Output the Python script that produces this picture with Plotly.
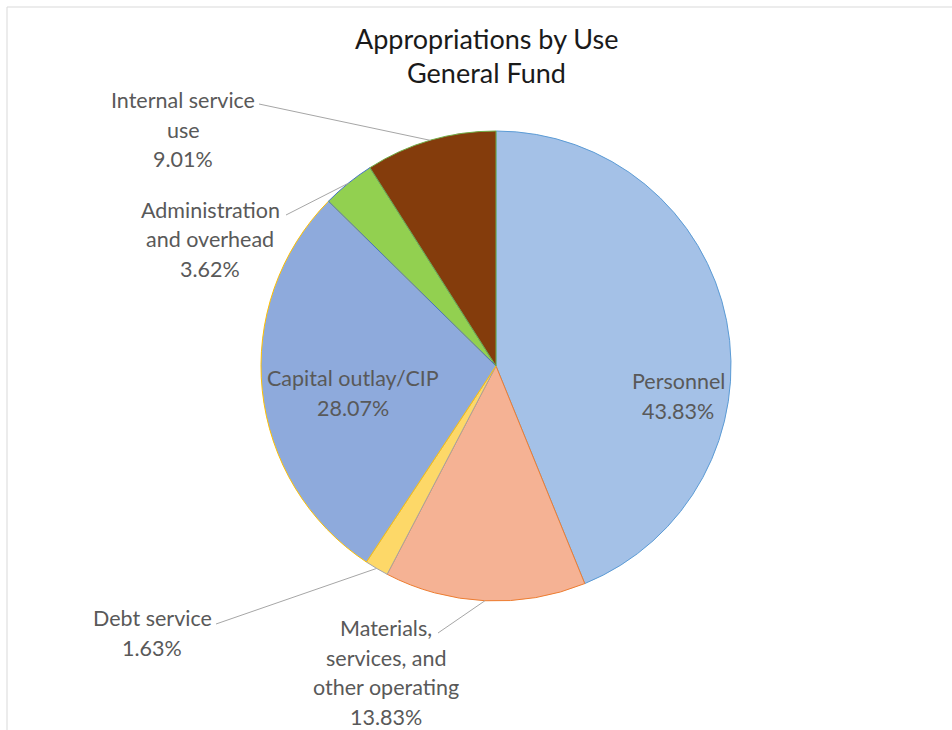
import math
import plotly.graph_objects as go

# Appropriations by use, general fund (share of total, %)
categories = [
    "Personnel",
    "Materials, services, and other operating",
    "Debt service",
    "Capital outlay/CIP",
    "Administration and overhead",
    "Internal service use",
]
shares = [43.83, 13.83, 1.63, 28.07, 3.62, 9.01]

# How each label is broken over lines
label_lines = [
    ["Personnel"],
    ["Materials,", "services, and", "other operating"],
    ["Debt service"],
    ["Capital outlay/CIP"],
    ["Administration", "and overhead"],
    ["Internal service", "use"],
]

title_lines = ["Appropriations by Use", "General Fund"]

fill_colors = ["#a4c1e7", "#f5b294", "#fdd868", "#8eaadc", "#92d050", "#843c0c"]
edge_colors = ["#5b9bd5", "#ed7d31", "#a5a5a5", "#ffc000", "#4472c4", "#70ad47"]

W, H = 952, 730
CX, CY, R = 496, 366, 235  # pie centre and radius in pixels

FONT = "Lato"
LABEL_SIZE = 21.5
LABEL_COLOR = "#595959"
LINE_H = 29.5


def px(x):
    return x / W


def py(y):
    return 1 - y / H


fig = go.Figure(
    go.Pie(
        labels=categories,
        values=shares,
        sort=False,
        direction="clockwise",
        rotation=0,
        textinfo="none",
        hoverinfo="label+percent",
        marker=dict(colors=fill_colors, line=dict(color=edge_colors, width=1)),
        domain=dict(x=[px(CX - R), px(CX + R)], y=[py(CY + R), py(CY - R)]),
        showlegend=False,
    )
)

# Label placement: (centre x, first line y, anchor x, anchor y) in pixels;
# anchor is None for labels drawn inside their slice.
placement = [
    (678, 381, None, None),
    (386, 628, 438, 633),
    (152, 618, 216, 624),
    (353, 378, None, None),
    (210, 210, 286, 215),
    (183, 100, 259, 104),
]

annotations = []
shapes = []
total = sum(shares)
cum = 0.0
for name, val, lines, (lx, ly, ax, ay) in zip(categories, shares, label_lines, placement):
    mid = (cum + val / 2) / total * 2 * math.pi
    cum += val
    text_lines = lines + [f"{val:.2f}%"]
    for i, t in enumerate(text_lines):
        annotations.append(
            dict(
                x=px(lx), y=py(ly + i * LINE_H), xref="paper", yref="paper",
                text=t, showarrow=False, xanchor="center", yanchor="middle",
                font=dict(family=FONT, size=LABEL_SIZE, color=LABEL_COLOR),
            )
        )
    if ax is not None:
        ex = CX + R * math.sin(mid)
        ey = CY - R * math.cos(mid)
        shapes.append(
            dict(
                type="line", xref="paper", yref="paper",
                x0=px(ax), y0=py(ay), x1=px(ex), y1=py(ey),
                line=dict(color="#a6a6a6", width=1),
            )
        )

# Title, two centred lines
for i, t in enumerate(title_lines):
    annotations.append(
        dict(
            x=px(487), y=py(38 + i * 34), xref="paper", yref="paper",
            text=t, showarrow=False, xanchor="center", yanchor="middle",
            font=dict(family=FONT, size=27, color="#1a1a1a"),
        )
    )

# Chart area frame
shapes.append(
    dict(
        type="rect", xref="paper", yref="paper",
        x0=px(7), y0=py(H + 5), x1=px(W + 5), y1=py(7),
        line=dict(color="#d9d9d9", width=1), fillcolor="rgba(0,0,0,0)",
        layer="below",
    )
)

fig.update_layout(
    width=W, height=H,
    margin=dict(l=0, r=0, t=0, b=0),
    paper_bgcolor="white",
    plot_bgcolor="white",
    annotations=annotations,
    shapes=shapes,
)

fig.write_html("out.html")
